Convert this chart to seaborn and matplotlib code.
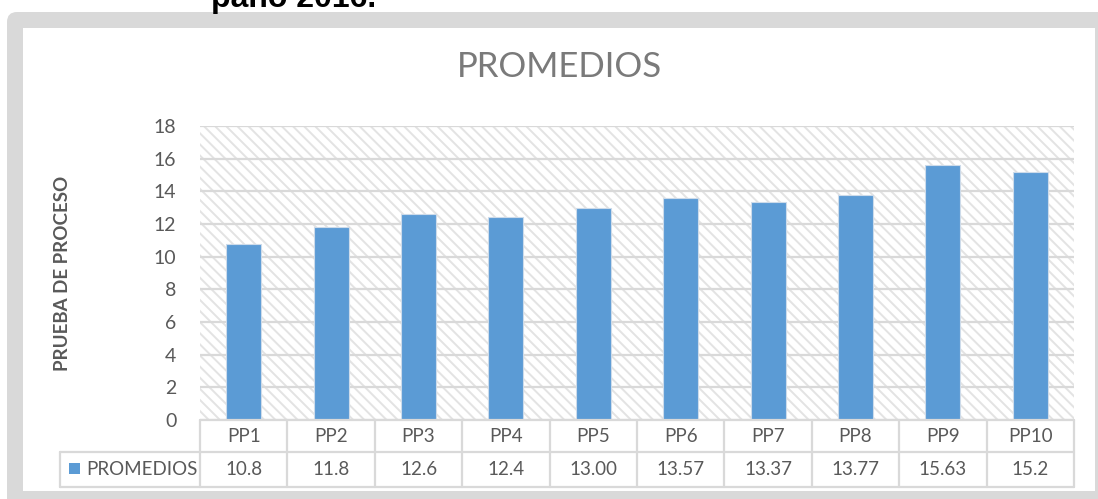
# PROMEDIOS bar chart with data table underneath (Excel-like)

import matplotlib
matplotlib.use('Agg')
import matplotlib.pyplot as plt
import matplotlib.transforms as mtransforms
from matplotlib.patches import Rectangle, FancyBboxPatch
import seaborn as sns
import pandas as pd


categories = ['PP1', 'PP2', 'PP3', 'PP4', 'PP5', 'PP6', 'PP7', 'PP8', 'PP9', 'PP10']
promedios = [10.8, 11.8, 12.6, 12.4, 13.00, 13.57, 13.37, 13.77, 15.63, 15.2]
value_labels = ['10.8', '11.8', '12.6', '12.4', '13.00', '13.57', '13.37', '13.77', '15.63', '15.2']
y_ticks = [0, 2, 4, 6, 8, 10, 12, 14, 16, 18]

df = pd.DataFrame({'prueba': categories, 'promedio': promedios})

sns.set_style('white')
plt.rcParams['font.family'] = ['Lato', 'DejaVu Sans']
plt.rcParams['hatch.linewidth'] = 1.4

blue = '#5B9BD5'
grey_txt = '#595959'
grid_c = '#d9d9d9'

W, H = 1098, 499
fig = plt.figure(figsize=(W / 100, H / 100), dpi=100)
fig.patch.set_facecolor('white')

# grey chart frame
ident = mtransforms.IdentityTransform()
frame = FancyBboxPatch((7, -30), 1300, H - 12 + 30, boxstyle='round,pad=0,rounding_size=10',
                       transform=ident, facecolor='#d9d9d9', edgecolor='none', zorder=-2)
inner = Rectangle((23, H - 491), 1095 - 23, 491 - 28, transform=ident,
                  facecolor='white', edgecolor='none', zorder=-1)
fig.patches.extend([frame, inner])

# text cut off at the top (caption from the document)
fig.text(211 / W, (H - 7.5) / H, 'paño 2016.', family=['Liberation Sans', 'DejaVu Sans'],
         fontweight='bold', fontsize=23, color='black', ha='left', va='baseline')

ax = fig.add_axes([200 / W, 79 / H, 874 / W, 294 / H])
ax.set_facecolor('white')
ax.add_patch(Rectangle((0, 0), 1, 1, transform=ax.transAxes, facecolor='white',
                       edgecolor='#e3e3e3', lw=0, hatch='\\\\\\', zorder=0))

sns.barplot(data=df, x='prueba', y='promedio', color=blue, saturation=1, width=0.4,
            edgecolor='#cddbea', linewidth=0.8, ax=ax, zorder=2)

ax.set_ylim(0, 18)
ax.set_xlim(-0.5, len(categories) - 0.5)
ax.set_yticks(y_ticks)
ax.yaxis.grid(True, color=grid_c, lw=1.6, zorder=1)
ax.set_axisbelow(True)
for s in ax.spines.values():
    s.set_visible(False)
ax.tick_params(axis='y', length=0, pad=17, labelsize=14, labelcolor=grey_txt)
ax.set_xticks([])
ax.set_xlabel('')
ax.set_ylabel('PRUEBA DE PROCESO', fontsize=13.5, fontweight='bold', color=grey_txt)
ax.yaxis.set_label_coords(-(200 - 63) / 874, 0.5)
ax.yaxis.label.set_va('center')

fig.text(560 / W, (H - 77) / H, 'PROMEDIOS', fontsize=25, color='#7a7a7a',
         ha='center', va='baseline')

# data table below the axis
r1 = -32 / 294
r2 = -67 / 294
xl = -140 / 874
lk = dict(color=grid_c, lw=1.6, clip_on=False)
tr = ax.get_xaxis_transform()
ax.plot([0, 1], [0, 0], transform=ax.transAxes, **lk)
ax.plot([0, 1], [r1, r1], transform=ax.transAxes, **lk)
ax.plot([xl, 0], [r1, r1], transform=ax.transAxes, **lk)
ax.plot([xl, 1], [r2, r2], transform=ax.transAxes, **lk)
ax.plot([xl, xl], [r1, r2], transform=ax.transAxes, **lk)
for i in range(len(categories) + 1):
    ax.plot([i - 0.5, i - 0.5], [0, r2], transform=tr, **lk)

for i, (c, v) in enumerate(zip(categories, value_labels)):
    ax.text(i, r1 / 2, c, transform=tr, ha='center', va='center', fontsize=13.5,
            color=grey_txt, clip_on=False)
    ax.text(i, (r1 + r2) / 2, v, transform=tr, ha='center', va='center', fontsize=13.5,
            color=grey_txt, clip_on=False)

ax.add_patch(Rectangle((-131 / 874, -54 / 294), 11 / 874, 11 / 294, transform=ax.transAxes,
                       facecolor=blue, edgecolor='none', clip_on=False))
ax.text(-114 / 874, (r1 + r2) / 2, 'PROMEDIOS', transform=ax.transAxes, ha='left', va='center',
        fontsize=13.5, color=grey_txt, clip_on=False)

plt.savefig('out.png', dpi=100)
